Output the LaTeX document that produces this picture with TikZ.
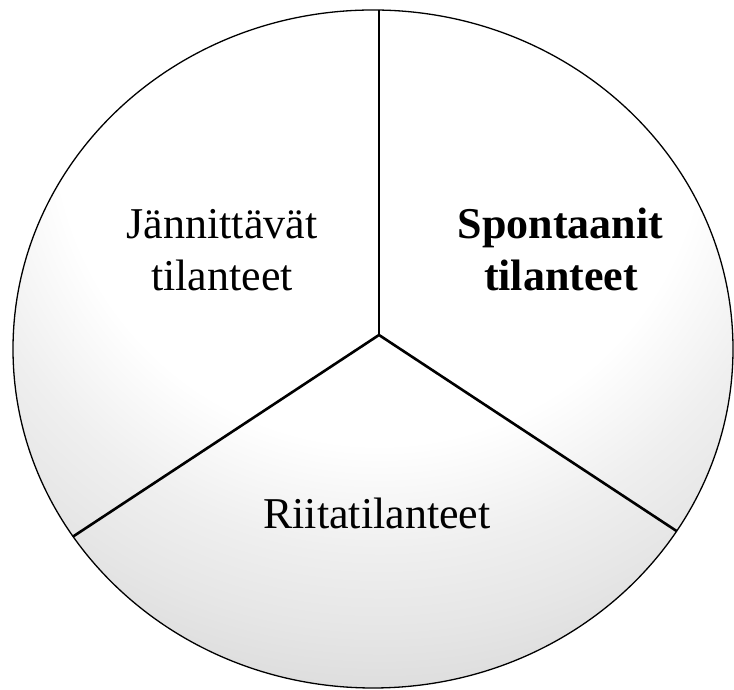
\documentclass[tikz,border=0pt]{standalone}
\usepackage{fontspec}
\setmainfont{Liberation Serif}
\definecolor{shA}{HTML}{EFEFEF}
\definecolor{shM}{HTML}{E6E6E6}
\definecolor{shB}{HTML}{DCDCDC}
\pgfdeclareradialshading{piefill}{\pgfpoint{0bp}{0bp}}{color(0bp)=(white); color(13.5bp)=(white); color(17.9bp)=(shA); color(21.2bp)=(shM); color(24.2bp)=(shB); color(50bp)=(shB)}
\begin{document}
\begin{tikzpicture}[x=1pt,y=1pt,
  lbl/.style={font=\fontsize{44}{54}\selectfont, inner sep=0pt, anchor=base},
  divider/.style={line width=2.6pt, black},
  rim/.style={line width=1.3pt, black}]
\useasboundingbox (0,0) rectangle (734,690);
% disc
\begin{scope}
  \clip (373,341) ellipse [x radius=360, y radius=339];
  \shade[shading=piefill] (379,570) circle [radius=600];
\end{scope}
% dividers
\coordinate (c) at (379,355);
\coordinate (top) at (379,690);
\coordinate (L) at (42,133);
\coordinate (R) at (716,133);
\begin{scope}
  \clip (373,341) ellipse [x radius=360, y radius=339];
  \draw[divider] (top) -- (c);
  \draw[divider, line join=miter] (L) -- (c) -- (R);
\end{scope}
\draw[rim] (373,341) ellipse [x radius=360, y radius=339];
% labels
\node[lbl] (j1) at (222,451) {Jännittävät};
\node[lbl] (j2) at (222,399) {tilanteet};
\node[lbl, font=\fontsize{44}{54}\selectfont\bfseries] (s1) at (560.5,451) {Spontaanit};
\node[lbl, font=\fontsize{44}{54}\selectfont\bfseries] (s2) at (561,399) {tilanteet};
\node[lbl] (r) at (377,161) {Riitatilanteet};
\end{tikzpicture}
\end{document}
